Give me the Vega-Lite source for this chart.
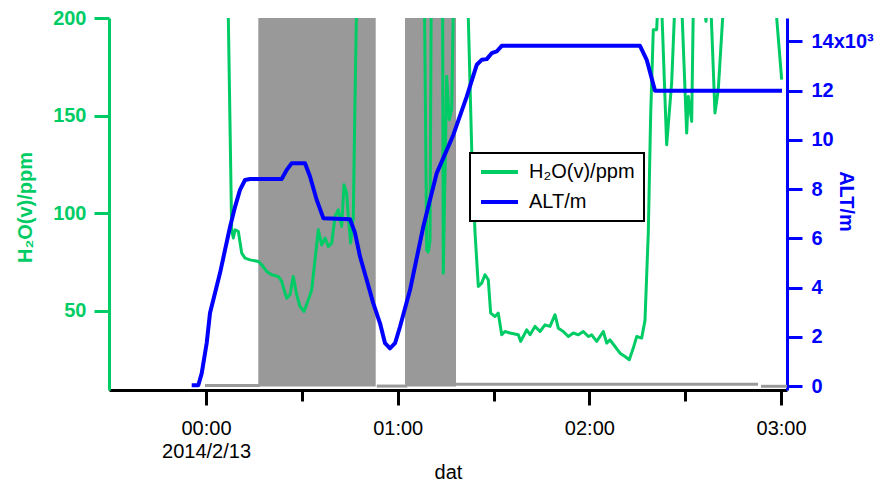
{
  "$schema": "https://vega.github.io/schema/vega-lite/v6.json",
  "width": 678,
  "height": 372,
  "autosize": {"type": "none"},
  "padding": {"left": 109, "top": 18, "right": 96, "bottom": 92},
  "background": "white",
  "config": {
    "view": {"stroke": null},
    "font": "Liberation Sans",
    "axis": {"grid": false, "labelFont": "Liberation Sans", "titleFont": "Liberation Sans"},
    "legend": {"strokeWidth": 2}
  },
  "datasets": {
    "alt": [
      {"t": "2014-02-12T23:55:31", "v": 30},
      {"t": "2014-02-12T23:57:35", "v": 30},
      {"t": "2014-02-12T23:58:39", "v": 516},
      {"t": "2014-02-13T00:00:13", "v": 1750},
      {"t": "2014-02-13T00:01:15", "v": 2970},
      {"t": "2014-02-13T00:02:49", "v": 3780},
      {"t": "2014-02-13T00:04:23", "v": 4590},
      {"t": "2014-02-13T00:05:57", "v": 5530},
      {"t": "2014-02-13T00:07:31", "v": 6460},
      {"t": "2014-02-13T00:09:05", "v": 7280},
      {"t": "2014-02-13T00:10:38", "v": 7970},
      {"t": "2014-02-13T00:12:13", "v": 8370},
      {"t": "2014-02-13T00:13:46", "v": 8410},
      {"t": "2014-02-13T00:23:41", "v": 8410},
      {"t": "2014-02-13T00:25:16", "v": 8780},
      {"t": "2014-02-13T00:26:49", "v": 9050},
      {"t": "2014-02-13T00:30:59", "v": 9050},
      {"t": "2014-02-13T00:32:33", "v": 8510},
      {"t": "2014-02-13T00:34:39", "v": 7560},
      {"t": "2014-02-13T00:36:43", "v": 6820},
      {"t": "2014-02-13T00:45:04", "v": 6780},
      {"t": "2014-02-13T00:46:38", "v": 6220},
      {"t": "2014-02-13T00:48:12", "v": 5260},
      {"t": "2014-02-13T00:50:18", "v": 4310},
      {"t": "2014-02-13T00:52:22", "v": 3360},
      {"t": "2014-02-13T00:54:28", "v": 2550},
      {"t": "2014-02-13T00:56:02", "v": 1740},
      {"t": "2014-02-13T00:57:35", "v": 1530},
      {"t": "2014-02-13T00:59:10", "v": 1740},
      {"t": "2014-02-13T01:00:43", "v": 2410},
      {"t": "2014-02-13T01:03:51", "v": 3900},
      {"t": "2014-02-13T01:08:01", "v": 6480},
      {"t": "2014-02-13T01:12:13", "v": 8650},
      {"t": "2014-02-13T01:17:24", "v": 10200},
      {"t": "2014-02-13T01:21:36", "v": 11760},
      {"t": "2014-02-13T01:24:44", "v": 13050},
      {"t": "2014-02-13T01:26:17", "v": 13250},
      {"t": "2014-02-13T01:27:52", "v": 13280},
      {"t": "2014-02-13T01:29:25", "v": 13520},
      {"t": "2014-02-13T01:30:59", "v": 13590},
      {"t": "2014-02-13T01:32:33", "v": 13820},
      {"t": "2014-02-13T02:15:50", "v": 13820},
      {"t": "2014-02-13T02:17:56", "v": 13250},
      {"t": "2014-02-13T02:20:32", "v": 12000},
      {"t": "2014-02-13T03:00:17", "v": 12000}
    ],
    "h2o": [
      {"t": "2014-02-12T23:56:34", "v": 400},
      {"t": "2014-02-13T00:06:53", "v": 400},
      {"t": "2014-02-13T00:06:59", "v": 200},
      {"t": "2014-02-13T00:08:02", "v": 91.4},
      {"t": "2014-02-13T00:08:33", "v": 87.2},
      {"t": "2014-02-13T00:09:05", "v": 91.4},
      {"t": "2014-02-13T00:10:07", "v": 90.6},
      {"t": "2014-02-13T00:11:10", "v": 79.5},
      {"t": "2014-02-13T00:12:13", "v": 76.9},
      {"t": "2014-02-13T00:13:46", "v": 76.0},
      {"t": "2014-02-13T00:16:22", "v": 75.2},
      {"t": "2014-02-13T00:17:26", "v": 73.5},
      {"t": "2014-02-13T00:19:00", "v": 70.1},
      {"t": "2014-02-13T00:20:34", "v": 68.4},
      {"t": "2014-02-13T00:22:38", "v": 67.5},
      {"t": "2014-02-13T00:23:41", "v": 65.0},
      {"t": "2014-02-13T00:24:44", "v": 59.0},
      {"t": "2014-02-13T00:25:16", "v": 56.4},
      {"t": "2014-02-13T00:26:17", "v": 58.1},
      {"t": "2014-02-13T00:27:19", "v": 67.5},
      {"t": "2014-02-13T00:28:23", "v": 58.1},
      {"t": "2014-02-13T00:29:25", "v": 52.1},
      {"t": "2014-02-13T00:30:40", "v": 49.6},
      {"t": "2014-02-13T00:32:01", "v": 55.5},
      {"t": "2014-02-13T00:33:05", "v": 60.7},
      {"t": "2014-02-13T00:34:07", "v": 76.0},
      {"t": "2014-02-13T00:35:09", "v": 91.4},
      {"t": "2014-02-13T00:36:13", "v": 83.7},
      {"t": "2014-02-13T00:37:15", "v": 87.2},
      {"t": "2014-02-13T00:38:17", "v": 82.9},
      {"t": "2014-02-13T00:39:21", "v": 84.6},
      {"t": "2014-02-13T00:40:23", "v": 98.3},
      {"t": "2014-02-13T00:41:25", "v": 101.7},
      {"t": "2014-02-13T00:42:28", "v": 93.1},
      {"t": "2014-02-13T00:43:11", "v": 114.5},
      {"t": "2014-02-13T00:44:02", "v": 110.3},
      {"t": "2014-02-13T00:44:32", "v": 98.3},
      {"t": "2014-02-13T00:45:17", "v": 84.6},
      {"t": "2014-02-13T00:46:06", "v": 98.3},
      {"t": "2014-02-13T00:46:38", "v": 158.1},
      {"t": "2014-02-13T00:47:10", "v": 210},
      {"t": "2014-02-13T00:48:12", "v": 400},
      {"t": "2014-02-13T01:06:59", "v": 400},
      {"t": "2014-02-13T01:08:05", "v": 260},
      {"t": "2014-02-13T01:09:05", "v": 81},
      {"t": "2014-02-13T01:09:35", "v": 80},
      {"t": "2014-02-13T01:10:07", "v": 86},
      {"t": "2014-02-13T01:10:38", "v": 260},
      {"t": "2014-02-13T01:13:54", "v": 300},
      {"t": "2014-02-13T01:14:16", "v": 69.2},
      {"t": "2014-02-13T01:15:20", "v": 170.1},
      {"t": "2014-02-13T01:16:09", "v": 147.9},
      {"t": "2014-02-13T01:16:54", "v": 153},
      {"t": "2014-02-13T01:17:24", "v": 205},
      {"t": "2014-02-13T01:17:56", "v": 400},
      {"t": "2014-02-13T01:21:23", "v": 400},
      {"t": "2014-02-13T01:22:06", "v": 200},
      {"t": "2014-02-13T01:23:10", "v": 132.5},
      {"t": "2014-02-13T01:24:12", "v": 89.9},
      {"t": "2014-02-13T01:25:14", "v": 62.4},
      {"t": "2014-02-13T01:26:17", "v": 64.1},
      {"t": "2014-02-13T01:27:19", "v": 68.4},
      {"t": "2014-02-13T01:28:21", "v": 65.8},
      {"t": "2014-02-13T01:29:06", "v": 48.7},
      {"t": "2014-02-13T01:30:27", "v": 47.0},
      {"t": "2014-02-13T01:31:29", "v": 48.7},
      {"t": "2014-02-13T01:32:33", "v": 37.6},
      {"t": "2014-02-13T01:33:35", "v": 39.3},
      {"t": "2014-02-13T01:35:09", "v": 38.5},
      {"t": "2014-02-13T01:37:45", "v": 37.6},
      {"t": "2014-02-13T01:38:30", "v": 34.2},
      {"t": "2014-02-13T01:40:23", "v": 40.2},
      {"t": "2014-02-13T01:41:25", "v": 37.6},
      {"t": "2014-02-13T01:42:58", "v": 41.9},
      {"t": "2014-02-13T01:44:32", "v": 39.3},
      {"t": "2014-02-13T01:46:06", "v": 42.7},
      {"t": "2014-02-13T01:47:40", "v": 41.9},
      {"t": "2014-02-13T01:49:14", "v": 47.9},
      {"t": "2014-02-13T01:50:16", "v": 41.0},
      {"t": "2014-02-13T01:51:50", "v": 39.3},
      {"t": "2014-02-13T01:53:24", "v": 36.7},
      {"t": "2014-02-13T01:54:58", "v": 38.5},
      {"t": "2014-02-13T01:56:32", "v": 37.6},
      {"t": "2014-02-13T01:58:05", "v": 39.3},
      {"t": "2014-02-13T01:59:40", "v": 36.7},
      {"t": "2014-02-13T02:00:43", "v": 37.6},
      {"t": "2014-02-13T02:02:17", "v": 34.2},
      {"t": "2014-02-13T02:04:21", "v": 39.3},
      {"t": "2014-02-13T02:05:25", "v": 33.3},
      {"t": "2014-02-13T02:06:27", "v": 35.0},
      {"t": "2014-02-13T02:08:01", "v": 31.6},
      {"t": "2014-02-13T02:09:35", "v": 28.2},
      {"t": "2014-02-13T02:11:08", "v": 26.5},
      {"t": "2014-02-13T02:12:29", "v": 24.8},
      {"t": "2014-02-13T02:13:44", "v": 30.8},
      {"t": "2014-02-13T02:14:48", "v": 36.7},
      {"t": "2014-02-13T02:16:22", "v": 35.9},
      {"t": "2014-02-13T02:17:24", "v": 45.0},
      {"t": "2014-02-13T02:18:26", "v": 89.9},
      {"t": "2014-02-13T02:19:10", "v": 149.5},
      {"t": "2014-02-13T02:20:00", "v": 194.0},
      {"t": "2014-02-13T02:21:03", "v": 194.0},
      {"t": "2014-02-13T02:22:06", "v": 230},
      {"t": "2014-02-13T02:24:11", "v": 135.0},
      {"t": "2014-02-13T02:25:45", "v": 166.7},
      {"t": "2014-02-13T02:27:19", "v": 230},
      {"t": "2014-02-13T02:28:21", "v": 230},
      {"t": "2014-02-13T02:30:27", "v": 141.0},
      {"t": "2014-02-13T02:30:57", "v": 159.8},
      {"t": "2014-02-13T02:32:01", "v": 147.0},
      {"t": "2014-02-13T02:32:44", "v": 230},
      {"t": "2014-02-13T02:35:33", "v": 215},
      {"t": "2014-02-13T02:36:29", "v": 198.3},
      {"t": "2014-02-13T02:37:13", "v": 215},
      {"t": "2014-02-13T02:38:03", "v": 205},
      {"t": "2014-02-13T02:39:18", "v": 151.3},
      {"t": "2014-02-13T02:40:20", "v": 163.2},
      {"t": "2014-02-13T02:41:54", "v": 205},
      {"t": "2014-02-13T02:44:00", "v": 300},
      {"t": "2014-02-13T02:56:31", "v": 300},
      {"t": "2014-02-13T02:58:37", "v": 200},
      {"t": "2014-02-13T03:00:11", "v": 168.4}
    ],
    "shade": [
      {"t": "2014-02-13T00:16:22", "t2": "2014-02-13T00:53:07"},
      {"t": "2014-02-13T01:02:17", "t2": "2014-02-13T01:18:15"}
    ],
    "base": [
      {"t": "2014-02-12T23:59:41", "t2": "2014-02-13T00:16:54", "v": 20},
      {"t": "2014-02-13T00:53:26", "t2": "2014-02-13T01:03:00", "v": 0},
      {"t": "2014-02-13T01:18:15", "t2": "2014-02-13T02:52:47", "v": 70},
      {"t": "2014-02-13T02:53:43", "t2": "2014-02-13T03:01:51", "v": -10}
    ]
  },
  "encoding": {
    "x": {
      "field": "t",
      "type": "temporal",
      "scale": {"domain": [
        {"year": 2014, "month": 2, "date": 12, "hours": 23, "minutes": 29, "seconds": 38},
        {"year": 2014, "month": 2, "date": 13, "hours": 3, "minutes": 1, "seconds": 51}
      ]},
      "axis": {
        "values": [
          {"year": 2014, "month": 2, "date": 13, "hours": 0, "minutes": 0},
          {"year": 2014, "month": 2, "date": 13, "hours": 0, "minutes": 30},
          {"year": 2014, "month": 2, "date": 13, "hours": 1, "minutes": 0},
          {"year": 2014, "month": 2, "date": 13, "hours": 1, "minutes": 30},
          {"year": 2014, "month": 2, "date": 13, "hours": 2, "minutes": 0},
          {"year": 2014, "month": 2, "date": 13, "hours": 2, "minutes": 30},
          {"year": 2014, "month": 2, "date": 13, "hours": 3, "minutes": 0}
        ],
        "labelExpr": "minutes(datum.value) == 30 ? '' : (hours(datum.value) == 0 ? [timeFormat(datum.value, '%H:%M'), '2014/2/13'] : timeFormat(datum.value, '%H:%M'))",
        "title": "dat",
        "domainColor": "black",
        "domainWidth": 3,
        "tickColor": "black",
        "tickWidth": 3,
        "tickSize": {"condition": {"test": "minutes(datum.value) == 30", "value": 11}, "value": 15},
        "labelFontSize": 20,
        "labelColor": "black",
        "labelPadding": 13,
        "labelLineHeight": 23,
        "labelOverlap": false,
        "labelFlush": false,
        "titleFontSize": 20,
        "titleFontWeight": "normal",
        "titleColor": "black",
        "titleX": 339,
        "titleY": 88,
        "titleBaseline": "alphabetic",
        "titleAlign": "center"
      }
    }
  },
  "layer": [
    {
      "layer": [
        {
          "data": {"name": "shade"},
          "mark": {"type": "rect", "color": "#999999"},
          "encoding": {
            "x2": {"field": "t2"},
            "y": {"datum": 14950, "type": "quantitative", "scale": {"domain": [-160, 14950], "nice": false, "zero": false}, "axis": null},
            "y2": {"datum": -20}
          }
        },
        {
          "data": {"name": "base"},
          "mark": {"type": "rule", "color": "#9a9a9a", "strokeWidth": 3},
          "encoding": {
            "x2": {"field": "t2"},
            "y": {"field": "v", "type": "quantitative", "scale": {"domain": [-160, 14950], "nice": false, "zero": false}, "axis": null}
          }
        }
      ]
    },
    {
      "data": {"name": "h2o"},
      "mark": {"type": "line", "clip": true, "strokeWidth": 3, "strokeJoin": "round"},
      "encoding": {
        "y": {
          "field": "v",
          "type": "quantitative",
          "scale": {"domain": [9.3, 200], "nice": false, "zero": false},
          "axis": {
            "orient": "left",
            "values": [50, 100, 150, 200],
            "domainColor": "#00CC66",
            "domainWidth": 3,
            "tickColor": "#00CC66",
            "tickWidth": 3,
            "tickSize": 15,
            "labelColor": "#00CC66",
            "labelFontSize": 20,
            "labelFontWeight": "bold",
            "labelPadding": 8,
            "labelFlush": false,
            "labelOverlap": false,
            "title": "H₂O(v)/ppm",
            "titleColor": "#00CC66",
            "titleFontSize": 20,
            "titleFontWeight": "bold",
            "titleAngle": -90,
            "titleX": -84,
            "titleY": 189,
            "titleBaseline": "middle",
            "titleAlign": "center"
          }
        },
        "color": {
          "datum": "H₂O(v)/ppm",
          "scale": {"domain": ["H₂O(v)/ppm", "ALT/m"], "range": ["#00CC66", "#0000FF"]},
          "legend": {
            "orient": "none", "legendX": 361, "legendY": 135, "title": null,
            "symbolType": "stroke", "symbolSize": 1369, "symbolStrokeWidth": 4,
            "clipHeight": 20, "labelFontSize": 20, "labelFont": "Liberation Sans",
            "labelColor": "black", "padding": 9, "rowPadding": 10, "labelOffset": 9,
            "strokeColor": "black", "fillColor": "white"
          }
        }
      }
    },
    {
      "data": {"name": "alt"},
      "mark": {"type": "line", "clip": true, "strokeWidth": 4, "strokeJoin": "round"},
      "encoding": {
        "y": {
          "field": "v",
          "type": "quantitative",
          "scale": {"domain": [-160, 14950], "nice": false, "zero": false},
          "axis": {
            "orient": "right",
            "values": [0, 2000, 4000, 6000, 8000, 10000, 12000, 14000],
            "labelExpr": "datum.value == 14000 ? '14x10³' : format(datum.value / 1000, 'd')",
            "domainColor": "#0000FF",
            "domainWidth": 3,
            "tickColor": "#0000FF",
            "tickWidth": 3,
            "tickSize": 15,
            "labelColor": "#0000FF",
            "labelFontSize": 20,
            "labelFontWeight": "bold",
            "labelPadding": 9,
            "labelFlush": false,
            "labelOverlap": false,
            "title": "ALT/m",
            "titleColor": "#0000FF",
            "titleFontSize": 20,
            "titleFontWeight": "bold",
            "titleAngle": 90,
            "titleX": 58,
            "titleY": 183,
            "titleBaseline": "middle",
            "titleAlign": "center"
          }
        },
        "color": {
          "datum": "ALT/m",
          "scale": {"domain": ["H₂O(v)/ppm", "ALT/m"], "range": ["#00CC66", "#0000FF"]},
          "legend": {
            "orient": "none", "legendX": 361, "legendY": 135, "title": null,
            "symbolType": "stroke", "symbolSize": 1369, "symbolStrokeWidth": 4,
            "clipHeight": 20, "labelFontSize": 20, "labelFont": "Liberation Sans",
            "labelColor": "black", "padding": 9, "rowPadding": 10, "labelOffset": 9,
            "strokeColor": "black", "fillColor": "white"
          }
        }
      }
    }
  ],
  "resolve": {"scale": {"y": "independent"}}
}
